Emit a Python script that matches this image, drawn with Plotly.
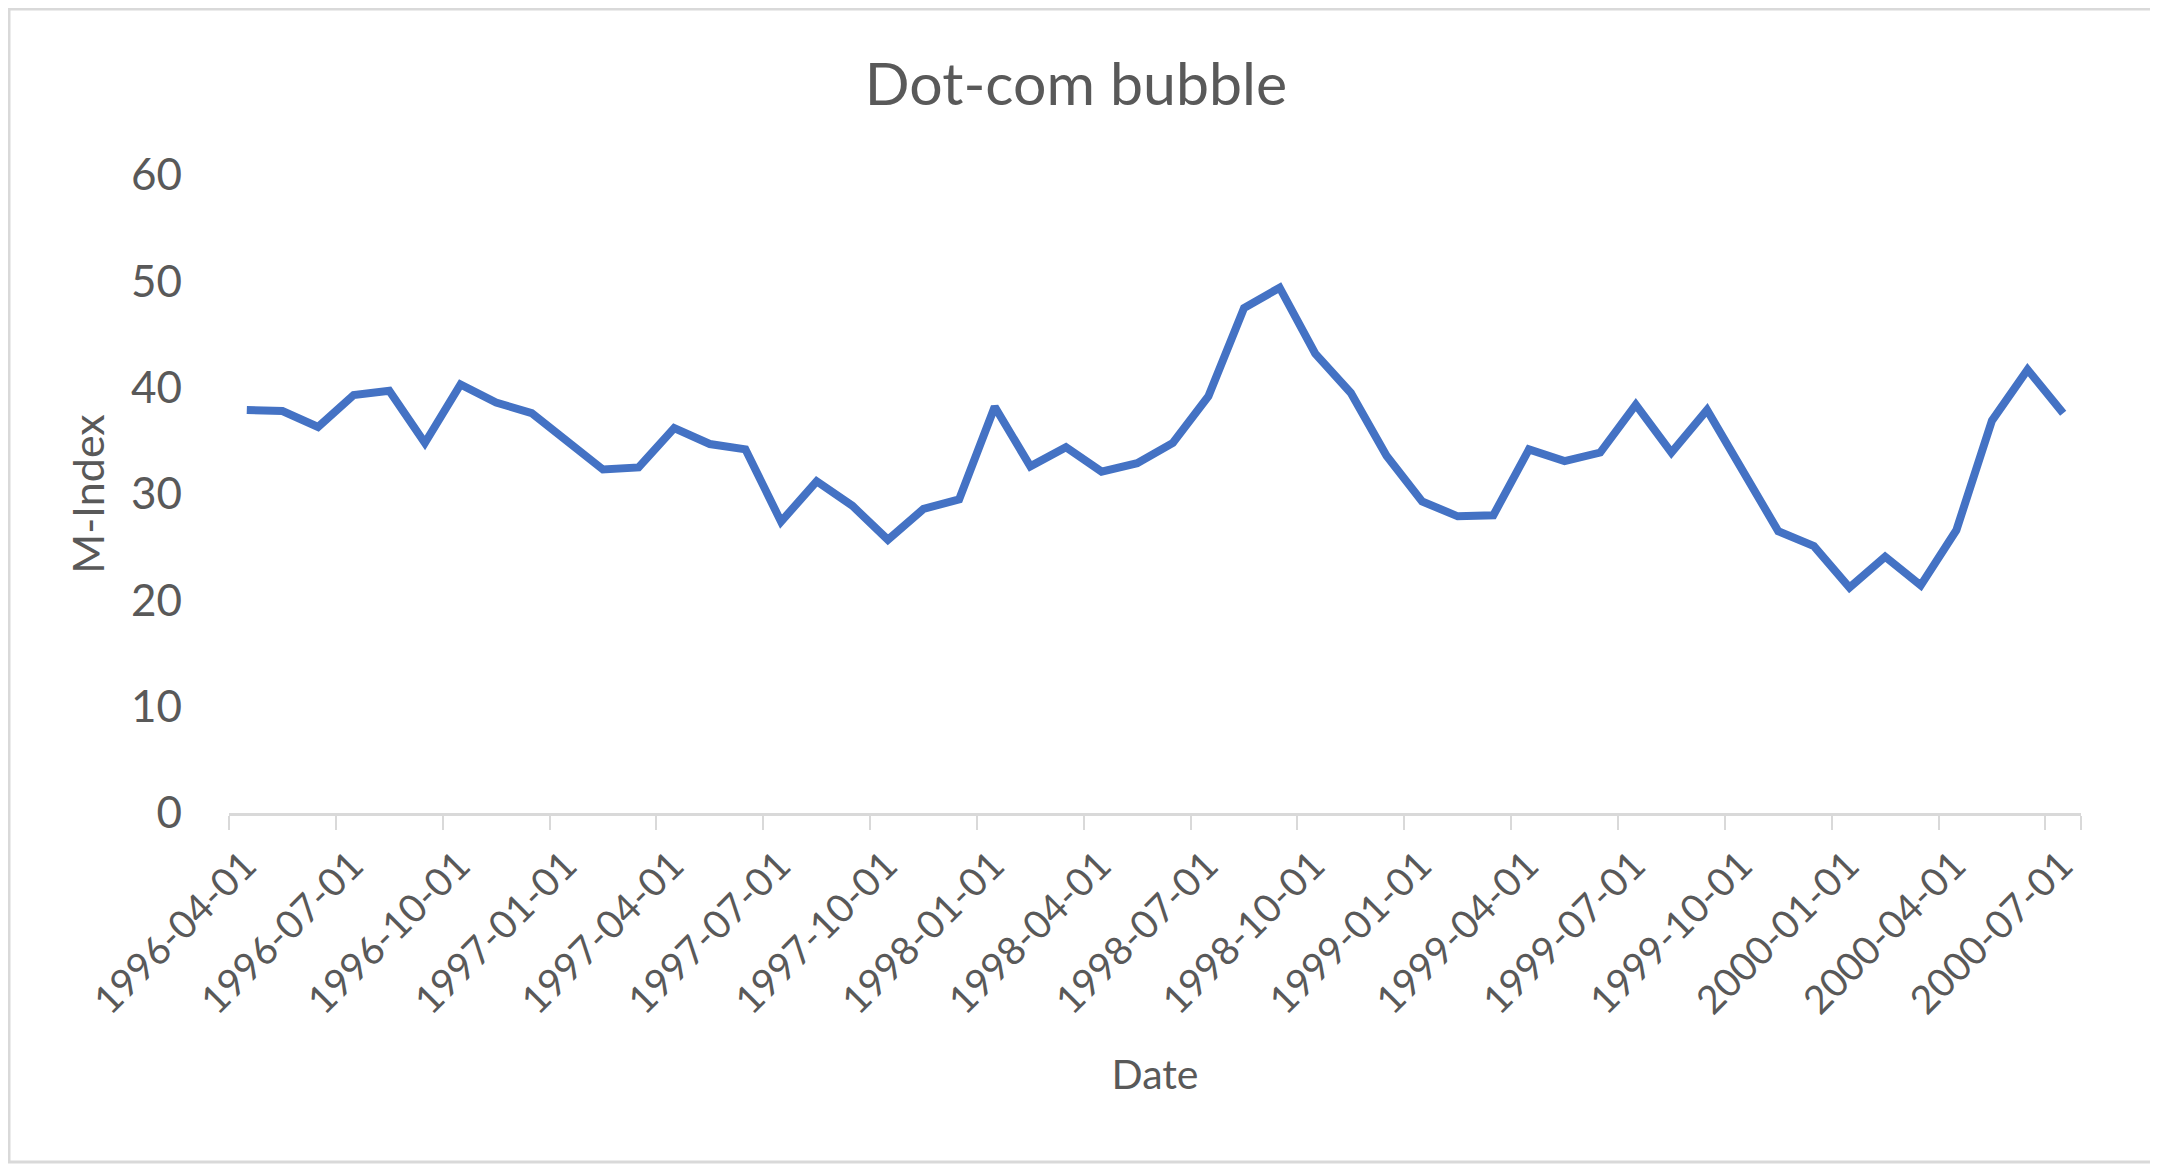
import plotly.graph_objects as go

dates = [
    "1996-04-01", "1996-05-01", "1996-06-01", "1996-07-01", "1996-08-01", "1996-09-01",
    "1996-10-01", "1996-11-01", "1996-12-01", "1997-01-01", "1997-02-01", "1997-03-01",
    "1997-04-01", "1997-05-01", "1997-06-01", "1997-07-01", "1997-08-01", "1997-09-01",
    "1997-10-01", "1997-11-01", "1997-12-01", "1998-01-01", "1998-02-01", "1998-03-01",
    "1998-04-01", "1998-05-01", "1998-06-01", "1998-07-01", "1998-08-01", "1998-09-01",
    "1998-10-01", "1998-11-01", "1998-12-01", "1999-01-01", "1999-02-01", "1999-03-01",
    "1999-04-01", "1999-05-01", "1999-06-01", "1999-07-01", "1999-08-01", "1999-09-01",
    "1999-10-01", "1999-11-01", "1999-12-01", "2000-01-01", "2000-02-01", "2000-03-01",
    "2000-04-01", "2000-05-01", "2000-06-01", "2000-07-01",
]
m_index = [
    37.9, 37.8, 36.3, 39.3, 39.7, 34.8,
    40.3, 38.6, 37.6, 35.0, 32.3, 32.5,
    36.2, 34.7, 34.2, 27.4, 31.2, 28.9,
    25.7, 28.6, 29.5, 38.2, 32.6, 34.4,
    32.1, 32.9, 34.8, 39.2, 47.5, 49.4,
    43.2, 39.5, 33.6, 29.3, 27.9, 28.0,
    34.2, 33.1, 33.9, 38.4, 33.9, 37.9,
    32.3, 26.5, 25.1, 21.2, 24.1, 21.4,
    26.6, 36.9, 41.7, 37.6,
]
y_ticks = [0, 10, 20, 30, 40, 50, 60]
label_every = 3

# category slots: point i sits at the centre of slot i
xpos = [i + 0.5 for i in range(len(dates))]
tick_idx = list(range(0, len(dates), label_every))

# the page body has an 8px margin, so the figure is drawn 8px smaller
W, H = 2150, 1160
ML, MR, MT, MB = 221, 77, 167, 355
PW, PH = W - ML - MR, H - MT - MB

FONT = "Lato"
TXT = "#595959"
GRID = "#d9d9d9"

fig = go.Figure()
fig.add_trace(go.Scatter(
    x=xpos, y=m_index, mode="lines",
    line=dict(color="#4472C4", width=8),
    hoverinfo="skip", showlegend=False,
))

fig.update_layout(
    width=W, height=H,
    margin=dict(l=ML, r=MR, t=MT, b=MB, autoexpand=False),
    paper_bgcolor="white", plot_bgcolor="white",
    font=dict(family=FONT, color=TXT),
    title=dict(text="Dot-com bubble", x=(1076 - 8) / W, xref="container", xanchor="center",
               y=1 - 76 / H, yref="container", yanchor="middle",
               font=dict(size=59, color=TXT, family=FONT)),
    showlegend=False,
)

fig.update_xaxes(
    range=[0, len(dates)],
    tickmode="array",
    tickvals=[i for i in tick_idx] + [len(dates)],
    ticktext=[dates[i] for i in tick_idx] + [""],
    tickangle=-45,
    tickfont=dict(size=39, color=TXT, family=FONT),
    ticklabelshift=16, ticklabelstandoff=-3,
    ticks="outside", ticklen=14, tickwidth=2, tickcolor=GRID,
    showline=True, linecolor=GRID, linewidth=3,
    showgrid=False, zeroline=False,
    title=dict(text="Date", font=dict(size=41, color=TXT, family=FONT), standoff=40),
)
fig.update_yaxes(
    range=[0, 60],
    tickmode="array", tickvals=y_ticks,
    tickfont=dict(size=44, color=TXT, family=FONT),
    ticks="", ticklabelstandoff=46,
    showline=False, showgrid=False, zeroline=False,
    title=dict(text="M-Index", font=dict(size=43, color=TXT, family=FONT), standoff=12),
)

# chart-area border (Excel style), placed via paper coordinates
bx0, bx1, by0, by1 = 1, W - 6, 1, H - 6   # figure pixels
fig.add_shape(type="rect", xref="paper", yref="paper",
              x0=(bx0 - ML) / PW, x1=(bx1 - ML) / PW,
              y0=(H - MB - by1) / PH, y1=(H - MB - by0) / PH,
              line=dict(color=GRID, width=3), fillcolor="rgba(0,0,0,0)", layer="below")

fig.write_html("out.html")
